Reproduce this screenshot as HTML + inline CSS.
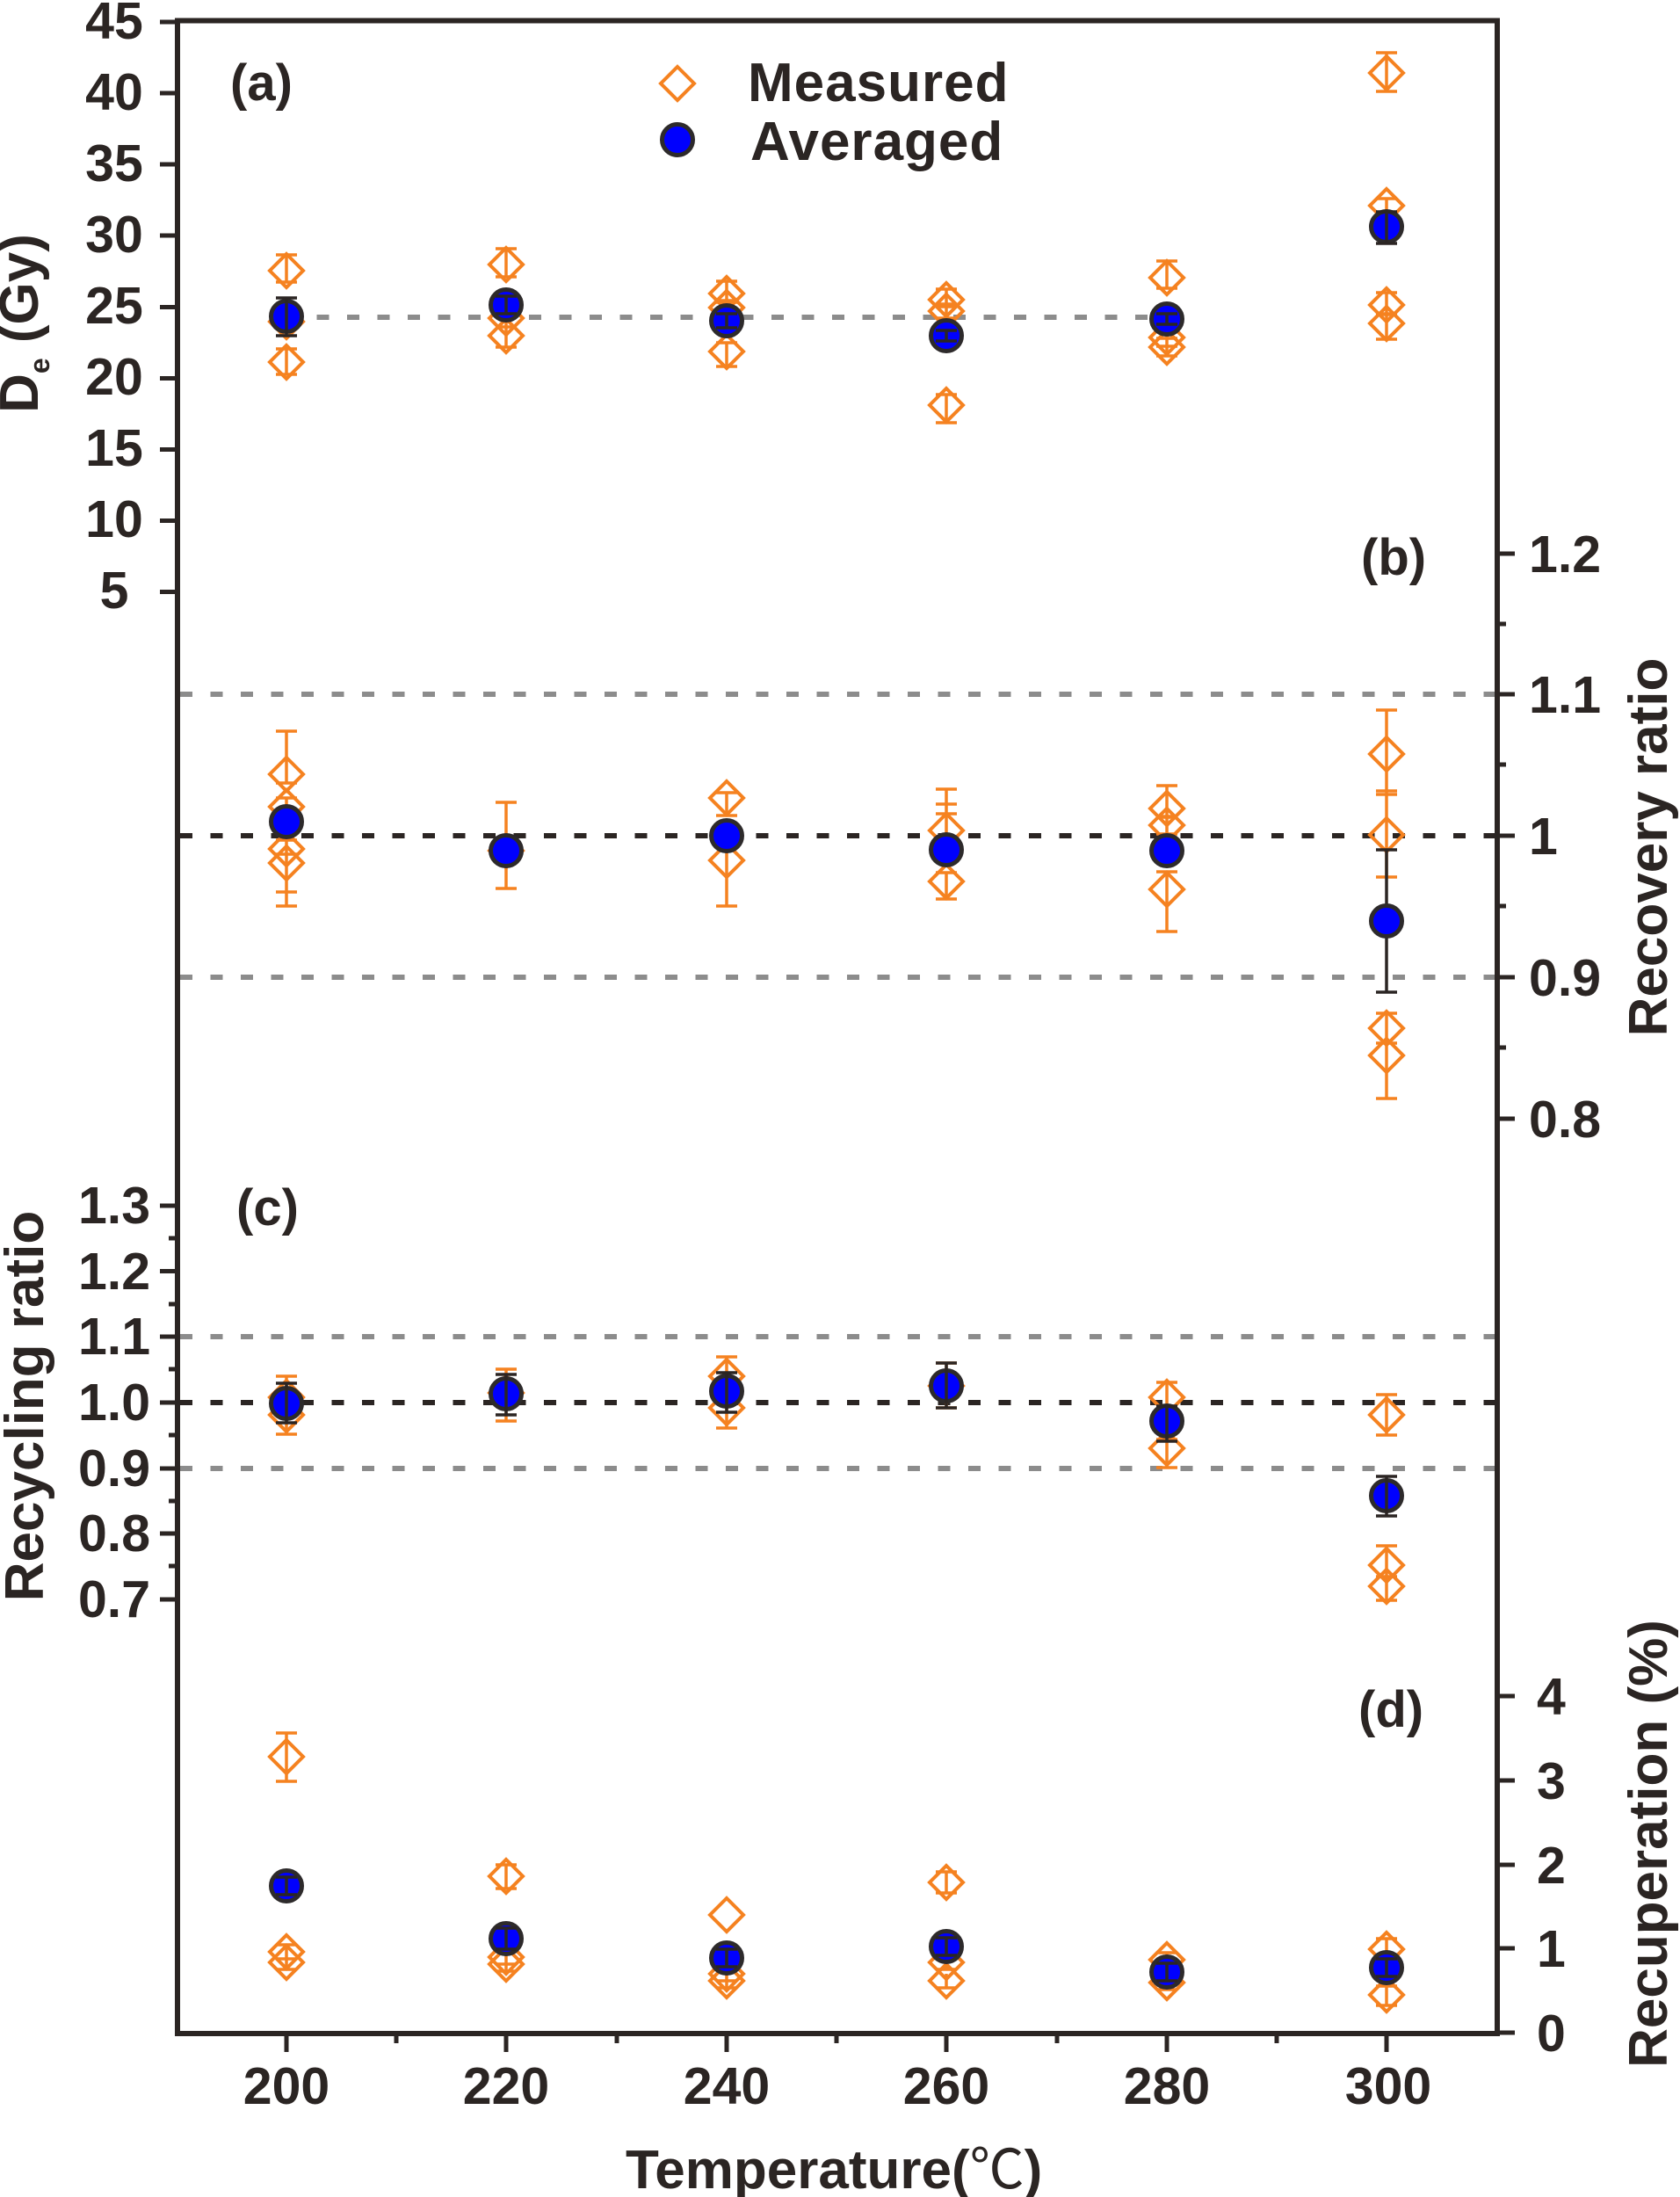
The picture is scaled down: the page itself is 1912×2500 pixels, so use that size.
<!DOCTYPE html>
<html><head><meta charset="utf-8"><style>
html,body{margin:0;padding:0;background:#fff;}
svg{display:block;}
text{font-family:"Liberation Sans",Arial,"Noto Sans CJK SC",sans-serif;font-weight:bold;fill:#2b2523;}
</style></head><body>
<svg width="1912" height="2500" viewBox="0 0 1912 2500" xmlns="http://www.w3.org/2000/svg">
<rect width="1912" height="2500" fill="#fff"/>

<!-- dashed reference lines -->
<g stroke-width="6" fill="none">
<path d="M326,361H1336" stroke="#8c8c8c" stroke-dasharray="14 20.5"/>
<path d="M205,790H1701M205,1112H1701" stroke="#8c8c8c" stroke-dasharray="14 20.5"/>
<path d="M205,951H1701" stroke="#2b2523" stroke-dasharray="14 20.5"/>
<path d="M205,1521H1701M205,1671H1701" stroke="#8c8c8c" stroke-dasharray="14 20.5"/>
<path d="M205,1596H1701" stroke="#2b2523" stroke-dasharray="14 20.5"/>
</g>

<!-- Measured: orange error bars -->
<g stroke="#f58220" stroke-width="3.5" fill="none">
<path d="M326,290V321M314,290h24M314,321h24 M326,397V426M314,397h24M314,426h24 M326,358V374M314,358h24M314,374h24
M576,283V315M564,283h24M564,315h24 M576,372V395M564,372h24M564,395h24 M576,352V372M564,352h24M564,372h24
M827,320V344M815,320h24M815,344h24 M827,390V417M815,390h24M815,417h24 M827,342V358M815,342h24M815,358h24
M1077,329V349M1065,329h24M1065,349h24 M1077,346V362M1065,346h24M1065,362h24 M1077,449V481M1065,449h24M1065,481h24
M1328,297V328M1316,297h24M1316,328h24 M1328,374V394M1316,374h24M1316,394h24 M1328,385V405M1316,385h24M1316,405h24
M1578,60V104M1566,60h24M1566,104h24 M1578,226V242M1566,226h24M1566,242h24 M1578,333V357M1566,333h24M1566,357h24 M1578,358V386M1566,358h24M1566,386h24"/>
<path d="M326,832V891M314,832h24M314,891h24 M326,908V928M314,908h24M314,928h24 M326,956V1015M314,956h24M314,1015h24 M326,972V1031M314,972h24M314,1031h24
M576,913V1011M564,913h24M564,1011h24
M827,902V928M815,902h24M815,928h24 M827,959V1031M815,959h24M815,1031h24
M1077,898V955M1065,898h24M1065,955h24 M1077,993V1023M1065,993h24M1065,1023h24 M1065,915h24M1065,926h24
M1328,894V930M1316,894h24M1316,930h24 M1328,929V949M1316,929h24M1316,949h24 M1328,992V1060M1316,992h24M1316,1060h24
M1578,808V904M1566,808h24M1566,904h24 M1578,904V998M1566,900h24M1566,998h24 M1578,1153V1187M1566,1153h24M1566,1187h24 M1578,1153V1250M1566,1250h24"/>
<path d="M326,1566V1600M314,1566h24M314,1600h24 M326,1600V1632M314,1632h24
M576,1558V1617M564,1558h24M564,1617h24
M827,1544V1576M815,1544h24M815,1576h24 M827,1592V1625M815,1592h24M815,1625h24
M1077,1551V1602M1065,1551h24M1065,1602h24
M1328,1573V1600M1316,1573h24M1316,1600h24 M1328,1638V1670M1316,1638h24M1316,1670h24
M1578,1587V1633M1566,1587h24M1566,1633h24 M1578,1759V1794M1566,1759h24M1566,1794h24 M1578,1794V1821M1566,1821h24"/>
<path d="M326,1972V2027M314,1972h24M314,2027h24 M326,2213V2229M314,2213h24M314,2229h24 M326,2225V2241M314,2241h24
M576,2122V2149M564,2122h24M564,2149h24 M576,2219V2235M564,2219h24M564,2235h24 M576,2227V2243M564,2243h24
M827,2238V2254M815,2238h24M815,2254h24 M827,2246V2262M815,2262h24
M1077,2130V2154M1065,2130h24M1065,2154h24 M1077,2225V2241M1065,2225h24M1065,2241h24 M1077,2246V2262M1065,2262h24
M1328,2222V2238M1316,2222h24M1316,2238h24 M1328,2248V2264M1316,2264h24
M1578,2206V2230M1566,2206h24M1566,2230h24 M1578,2260V2282M1566,2260h24M1566,2282h24"/>
</g>

<!-- Measured: orange diamonds -->
<g stroke="#f58220" stroke-width="4" fill="none" stroke-linejoin="miter">
<path d="M326,289l19,19l-19,19l-19,-19z M326,393l19,19l-19,19l-19,-19z M326,347l19,19l-19,19l-19,-19z
M576,282l19,19l-19,19l-19,-19z M576,363l19,19l-19,19l-19,-19z M576,343l19,19l-19,19l-19,-19z
M827,315l19,19l-19,19l-19,-19z M827,381l19,19l-19,19l-19,-19z M827,331l19,19l-19,19l-19,-19z
M1077,322l19,19l-19,19l-19,-19z M1077,335l19,19l-19,19l-19,-19z M1077,442l19,19l-19,19l-19,-19z
M1328,297l19,19l-19,19l-19,-19z M1328,365l19,19l-19,19l-19,-19z M1328,376l19,19l-19,19l-19,-19z
M1578,64l19,19l-19,19l-19,-19z M1578,215l19,19l-19,19l-19,-19z M1578,328l19,19l-19,19l-19,-19z M1578,349l19,19l-19,19l-19,-19z"/>
<path d="M326,862l19,19l-19,19l-19,-19z M326,899l19,19l-19,19l-19,-19z M326,947l19,19l-19,19l-19,-19z M326,963l19,19l-19,19l-19,-19z
M576,949l19,19l-19,19l-19,-19z
M827,889l19,19l-19,19l-19,-19z M827,960l19,19l-19,19l-19,-19z
M1077,926l19,19l-19,19l-19,-19z M1077,984l19,19l-19,19l-19,-19z
M1328,901l19,19l-19,19l-19,-19z M1328,920l19,19l-19,19l-19,-19z M1328,993l19,19l-19,19l-19,-19z
M1578,839l19,19l-19,19l-19,-19z M1578,931l19,19l-19,19l-19,-19z M1578,1151l19,19l-19,19l-19,-19z M1578,1182l19,19l-19,19l-19,-19z"/>
<path d="M326,1571l19,19l-19,19l-19,-19z M326,1591l19,19l-19,19l-19,-19z
M576,1566l19,19l-19,19l-19,-19z
M827,1547l19,19l-19,19l-19,-19z M827,1583l19,19l-19,19l-19,-19z
M1077,1558l19,19l-19,19l-19,-19z
M1328,1571l19,19l-19,19l-19,-19z M1328,1629l19,19l-19,19l-19,-19z
M1578,1591l19,19l-19,19l-19,-19z M1578,1762l19,19l-19,19l-19,-19z M1578,1786l19,19l-19,19l-19,-19z"/>
<path d="M326,1980l19,19l-19,19l-19,-19z M326,2202l19,19l-19,19l-19,-19z M326,2214l19,19l-19,19l-19,-19z
M576,2116l19,19l-19,19l-19,-19z M576,2208l19,19l-19,19l-19,-19z M576,2216l19,19l-19,19l-19,-19z
M827,2160l19,19l-19,19l-19,-19z M827,2227l19,19l-19,19l-19,-19z M827,2235l19,19l-19,19l-19,-19z
M1077,2123l19,19l-19,19l-19,-19z M1077,2214l19,19l-19,19l-19,-19z M1077,2235l19,19l-19,19l-19,-19z
M1328,2211l19,19l-19,19l-19,-19z M1328,2237l19,19l-19,19l-19,-19z
M1578,2199l19,19l-19,19l-19,-19z M1578,2251l19,19l-19,19l-19,-19z"/>
</g>

<!-- Averaged: long bar under circle (b,300) -->
<g stroke="#2b2523" stroke-width="3.5" fill="none">
<path d="M1578,967V1129M1566,967h24M1566,1129h24"/>
</g>

<!-- Averaged: circles -->
<g fill="#0000fe" stroke="#2d2a2b" stroke-width="5">
<circle cx="326" cy="360" r="17.5"/><circle cx="576" cy="347" r="17.5"/><circle cx="827" cy="365" r="17.5"/>
<circle cx="1077" cy="382" r="17.5"/><circle cx="1328" cy="363" r="17.5"/><circle cx="1578" cy="258" r="17.5"/>
<circle cx="326" cy="935" r="17.5"/><circle cx="576" cy="968" r="17.5"/><circle cx="827" cy="951" r="17.5"/>
<circle cx="1077" cy="967" r="17.5"/><circle cx="1328" cy="968" r="17.5"/><circle cx="1578" cy="1048" r="17.5"/>
<circle cx="326" cy="1597" r="17.5"/><circle cx="576" cy="1586" r="17.5"/><circle cx="827" cy="1583" r="17.5"/>
<circle cx="1077" cy="1577" r="17.5"/><circle cx="1328" cy="1617" r="17.5"/><circle cx="1578" cy="1702" r="17.5"/>
<circle cx="326" cy="2146" r="17.5"/><circle cx="576" cy="2206" r="17.5"/><circle cx="827" cy="2228" r="17.5"/>
<circle cx="1077" cy="2215" r="17.5"/><circle cx="1328" cy="2244" r="17.5"/><circle cx="1578" cy="2239" r="17.5"/>
</g>

<!-- Averaged: black error bars -->
<g stroke="#2b2523" stroke-width="3.5" fill="none">
<path d="M326,339V382M314,339h24M314,382h24 M576,337V357M564,337h24M564,357h24 M827,357V373M815,357h24M815,373h24
M1077,376V388M1065,376h24M1065,388h24 M1328,357V369M1316,357h24M1316,369h24 M1578,241V277M1566,241h24M1566,277h24"/>
<path d="M326,1574V1619M314,1574h24M314,1619h24 M576,1564V1610M564,1564h24M564,1610h24 M827,1562V1607M815,1562h24M815,1607h24
M1077,1551V1602M1065,1551h24M1065,1602h24 M1328,1600V1640M1316,1600h24M1316,1640h24 M1578,1680V1725M1566,1680h24M1566,1725h24"/>
<path d="M326,2136V2156M314,2136h24M314,2156h24 M576,2194V2218M564,2194h24M564,2218h24 M827,2218V2238M815,2218h24M815,2238h24
M1077,2205V2225M1065,2205h24M1065,2225h24 M1328,2234V2254M1316,2234h24M1316,2254h24 M1578,2229V2249M1566,2229h24M1566,2249h24"/>
</g>

<!-- frame -->
<rect x="202" y="23.5" width="1502" height="2290.5" fill="none" stroke="#2b2523" stroke-width="6"/>

<!-- ticks -->
<g stroke="#2b2523" stroke-width="5">
<path d="M182,25H202M182,106H202M182,187H202M182,268H202M182,349.5H202M182,430.5H202M182,511.5H202M182,592.5H202M182,673.5H202"/>
<path d="M182,1372H202M182,1446.5H202M182,1521H202M182,1596H202M182,1671H202M182,1745H202M182,1820H202"/>
<path d="M192,1409H202M192,1484H202M192,1558H202M192,1633H202M192,1708H202M192,1782H202"/>
<path d="M1704,630H1724M1704,790H1724M1704,951H1724M1704,1112H1724M1704,1273H1724"/>
<path d="M1704,710H1714M1704,870H1714M1704,1031H1714M1704,1192H1714"/>
<path d="M1704,1930H1724M1704,2026H1724M1704,2122H1724M1704,2217H1724M1704,2313H1724"/>
<path d="M326,2314V2335M576,2314V2335M827,2314V2335M1077,2314V2335M1328,2314V2335M1578,2314V2335"/>
<path d="M451,2314V2325M702,2314V2325M952,2314V2325M1203,2314V2325M1453,2314V2325"/>
</g>

<!-- tick labels -->
<g font-size="59" text-anchor="middle">
<text x="130" y="44">45</text><text x="130" y="125">40</text><text x="130" y="206">35</text>
<text x="130" y="287">30</text><text x="130" y="368">25</text><text x="130" y="449">20</text>
<text x="130" y="530">15</text><text x="130" y="611">10</text><text x="130" y="692">5</text>
<text x="130" y="1392">1.3</text><text x="130" y="1467">1.2</text><text x="130" y="1541">1.1</text>
<text x="130" y="1616">1.0</text><text x="130" y="1691">0.9</text><text x="130" y="1765">0.8</text><text x="130" y="1840">0.7</text>
<text x="326" y="2394">200</text><text x="576" y="2394">220</text><text x="827" y="2394">240</text>
<text x="1077" y="2394">260</text><text x="1328" y="2394">280</text><text x="1580" y="2394">300</text>
</g>
<g font-size="59" text-anchor="start">
<text x="1740" y="651">1.2</text><text x="1740" y="811">1.1</text><text x="1740" y="972">1</text>
<text x="1740" y="1133">0.9</text><text x="1740" y="1294">0.8</text>
<text x="1749" y="1951">4</text><text x="1749" y="2047">3</text><text x="1749" y="2143">2</text>
<text x="1749" y="2238">1</text><text x="1749" y="2334">0</text>
</g>

<!-- panel labels -->
<g font-size="58">
<text x="262" y="114">(a)</text>
<text x="1549" y="654">(b)</text>
<text x="269" y="1394">(c)</text>
<text x="1546" y="1965">(d)</text>
</g>

<!-- legend -->
<path d="M771,76l19,19l-19,19l-19,-19z" stroke="#f58220" stroke-width="4" fill="none"/>
<circle cx="771" cy="159" r="17.5" fill="#0000fe" stroke="#2d2a2b" stroke-width="5"/>
<text x="851" y="115" font-size="62" letter-spacing="1">Measured</text>
<text x="854" y="182" font-size="62" letter-spacing="1">Averaged</text>

<!-- axis titles -->
<text transform="translate(43,368) rotate(-90)" font-size="62" text-anchor="middle">D<tspan font-size="32" dy="13">e</tspan><tspan dy="-13"> (Gy)</tspan></text>
<text transform="translate(49,1600) rotate(-90)" font-size="62" text-anchor="middle">Recycling ratio</text>
<text transform="translate(1897,964) rotate(-90)" font-size="62" text-anchor="middle">Recovery ratio</text>
<text transform="translate(1897,2098) rotate(-90)" font-size="62" text-anchor="middle">Recuperation (%)</text>
<text x="712" y="2490" font-size="62">Temperature(<tspan font-family="'Noto Sans CJK SC',sans-serif" font-weight="normal">℃</tspan>)</text>
</svg>
</body></html>
